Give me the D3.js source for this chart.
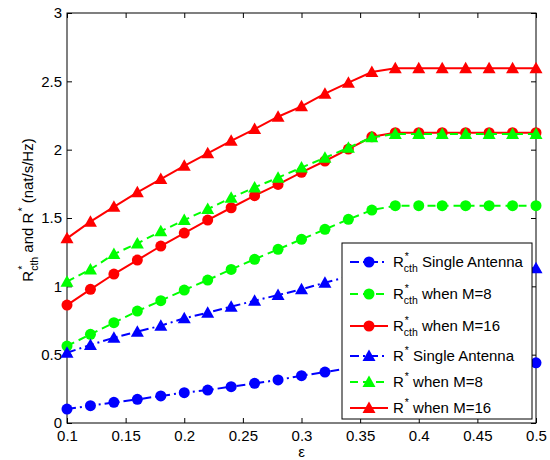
<!DOCTYPE html>
<html>
<head>
<meta charset="utf-8">
<script src="https://cdn.jsdelivr.net/npm/d3@7"></script>
<style>
  body { margin: 0; background: #fff; }
  text { font-family: "Liberation Sans", Arial, sans-serif; white-space: pre; fill: #000; }
</style>
</head>
<body>
<svg width="550" height="460"></svg>
<script>
// epsilon values along x
var eps = [0.1, 0.12, 0.14, 0.16, 0.18, 0.2, 0.22, 0.24, 0.26, 0.28, 0.3,
           0.32, 0.34, 0.36, 0.38, 0.4, 0.42, 0.44, 0.46, 0.48, 0.5];

var rcthSingle = [0.102, 0.127, 0.151, 0.173, 0.198, 0.222, 0.241, 0.266, 0.29, 0.315, 0.346,
                  0.373, 0.40, 0.425, 0.44, 0.44, 0.44, 0.44, 0.44, 0.44, 0.44];
var rcthM8 = [0.563, 0.649, 0.734, 0.819, 0.895, 0.973, 1.046, 1.124, 1.198, 1.271, 1.344,
              1.417, 1.49, 1.558, 1.59, 1.59, 1.59, 1.59, 1.59, 1.59, 1.59];
var rcthM16 = [0.863, 0.978, 1.09, 1.192, 1.295, 1.39, 1.485, 1.575, 1.663, 1.746, 1.834,
               1.917, 2.004, 2.094, 2.124, 2.124, 2.124, 2.124, 2.124, 2.124, 2.124];
var rSingle = [0.514, 0.571, 0.624, 0.668, 0.712, 0.766, 0.807, 0.851, 0.895, 0.936, 0.978,
               1.027, 1.07, 1.11, 1.132, 1.132, 1.132, 1.132, 1.132, 1.132, 1.132];
var rM8 = [1.034, 1.124, 1.236, 1.314, 1.403, 1.485, 1.565, 1.648, 1.724, 1.795, 1.869,
           1.941, 2.014, 2.09, 2.115, 2.115, 2.115, 2.115, 2.115, 2.115, 2.115];
var rM16 = [1.351, 1.473, 1.582, 1.688, 1.785, 1.882, 1.973, 2.065, 2.151, 2.241, 2.317,
            2.41, 2.49, 2.568, 2.595, 2.595, 2.595, 2.595, 2.595, 2.595, 2.595];

var xTicks = [0.1, 0.15, 0.2, 0.25, 0.3, 0.35, 0.4, 0.45, 0.5];
var yTicks = [0, 0.5, 1, 1.5, 2, 2.5, 3];

var series = [
  { vals: rcthSingle, color: "#0000ff", dash: "9,4,2,4", mark: "circle", sub: "cth", label: " Single Antenna" },
  { vals: rcthM8,     color: "#00ff00", dash: "8,5",     mark: "circle", sub: "cth", label: " when M=8" },
  { vals: rcthM16,    color: "#ff0000", dash: null,      mark: "circle", sub: "cth", label: " when M=16" },
  { vals: rSingle,    color: "#0000ff", dash: "9,4,2,4", mark: "tri",    sub: null,  label: " Single Antenna" },
  { vals: rM8,        color: "#00ff00", dash: "8,5",     mark: "tri",    sub: null,  label: " when M=8" },
  { vals: rM16,       color: "#ff0000", dash: null,      mark: "tri",    sub: null,  label: " when M=16" }
];

var svg = d3.select("svg");
var pl = 67, pr = 536, pt = 13, pb = 423;

var x = d3.scaleLinear().domain([0.1, 0.5]).range([pl, pr]);
var y = d3.scaleLinear().domain([0, 3]).range([pb, pt]);

svg.append("rect").attr("width", 550).attr("height", 460).attr("fill", "#fff");

// axes, ticks inward like matlab
var fmt = function(d) { return String(d); };
svg.append("g").attr("transform", "translate(0," + pb + ")")
  .call(d3.axisBottom(x).tickValues(xTicks).tickFormat(fmt).tickSizeInner(-5).tickSizeOuter(0).tickPadding(7));
svg.append("g").attr("transform", "translate(" + pl + ",0)")
  .call(d3.axisLeft(y).tickValues(yTicks).tickFormat(fmt).tickSizeInner(-5).tickSizeOuter(0).tickPadding(5));
svg.append("g").attr("transform", "translate(0," + pt + ")")
  .call(d3.axisTop(x).tickValues(xTicks).tickFormat("").tickSizeInner(-5).tickSizeOuter(0));
svg.append("g").attr("transform", "translate(" + pr + ",0)")
  .call(d3.axisRight(y).tickValues(yTicks).tickFormat("").tickSizeInner(-5).tickSizeOuter(0));

svg.selectAll(".domain").remove();
svg.selectAll(".tick line").attr("stroke", "#000");
svg.selectAll(".tick text").style("font-size", "15px").attr("fill", "#000");

svg.append("rect")
  .attr("x", pl).attr("y", pt)
  .attr("width", pr - pl).attr("height", pb - pt)
  .attr("fill", "none").attr("stroke", "#000").attr("stroke-width", 1);

var triPath = "M0,-6.5L6.5,5L-6.5,5Z";

function drawMarker(g, kind, cx, cy, color) {
  if (kind == "circle") {
    g.append("circle").attr("cx", cx).attr("cy", cy).attr("r", 5.5).attr("fill", color);
  } else {
    g.append("path").attr("d", triPath).attr("transform", "translate(" + cx + "," + cy + ")").attr("fill", color);
  }
}

var line = d3.line()
  .x(function(d, i) { return x(eps[i]); })
  .y(function(d) { return y(d); });

var plot = svg.append("g");
series.forEach(function(s) {
  var g = plot.append("g");
  g.append("path")
    .attr("d", line(s.vals))
    .attr("fill", "none")
    .attr("stroke", s.color)
    .attr("stroke-width", 2)
    .attr("stroke-dasharray", s.dash);
  s.vals.forEach(function(v, i) {
    drawMarker(g, s.mark, x(eps[i]), y(v), s.color);
  });
});

// text with stacked super/subscripts
function rich(g, segs, fs) {
  var cx = 0;
  segs.forEach(function(s) {
    if (s.t) {
      var t = g.append("text").attr("x", cx).attr("y", 0).style("font-size", fs + "px").text(s.t);
      cx += t.node().getComputedTextLength();
    }
    var w = 0;
    if (s.sup) {
      var a = g.append("text").attr("x", cx + 1).attr("y", -fs * 0.5).style("font-size", (fs * 0.7) + "px").text(s.sup);
      w = Math.max(w, a.node().getComputedTextLength() + 1);
    }
    if (s.sub) {
      var b = g.append("text").attr("x", cx).attr("y", fs * 0.35).style("font-size", (fs * 0.7) + "px").text(s.sub);
      w = Math.max(w, b.node().getComputedTextLength());
    }
    cx += w;
  });
  return cx;
}

// legend
var lg = svg.append("g");
lg.append("rect")
  .attr("x", 342).attr("y", 243).attr("width", 190).attr("height", 176)
  .attr("fill", "#fff").attr("stroke", "#000").attr("stroke-width", 1);

var rowY = 262;
series.forEach(function(s, i) {
  if (i > 0) rowY += (s.sub ? 32 : 26);
  if (i == 3) rowY = 356;
  var row = lg.append("g");
  row.append("line")
    .attr("x1", 350).attr("x2", 388).attr("y1", rowY).attr("y2", rowY)
    .attr("stroke", s.color).attr("stroke-width", 2)
    .attr("stroke-dasharray", s.dash);
  drawMarker(row, s.mark, 369, rowY, s.color);
  var tg = row.append("g").attr("transform", "translate(393," + (rowY + 5) + ")");
  rich(tg, [{ t: "R", sup: "*", sub: s.sub }, { t: s.label }], 15);
});

// x label
svg.append("text")
  .attr("x", (pl + pr) / 2).attr("y", 457)
  .attr("text-anchor", "middle")
  .style("font-size", "15px")
  .text("ε");

// y label
var yl = svg.append("g");
var inner = yl.append("g");
var w = rich(inner, [{ t: "R", sup: "*", sub: "cth" }, { t: " and R", sup: "*" }, { t: " (nat/s/Hz)" }], 15);
yl.attr("transform", "translate(33,210) rotate(-90)");
inner.attr("transform", "translate(" + (-w / 2) + ",0)");
</script>
</body>
</html>
